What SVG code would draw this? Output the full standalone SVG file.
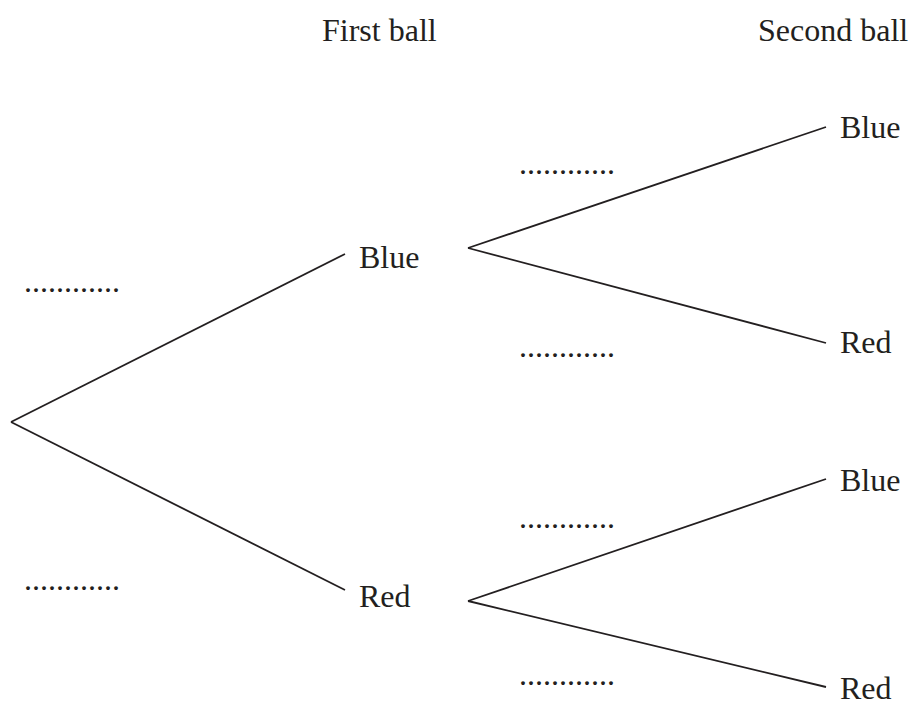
<svg xmlns="http://www.w3.org/2000/svg" width="910" height="715" viewBox="0 0 910 715">
<style>
text{font-family:"Liberation Serif","Times New Roman",serif;font-size:32px;fill:#231f20}
.e{stroke:#231f20;stroke-width:1.8;fill:none}
</style>
<rect width="910" height="715" fill="#fff"/>
<g id="headers">
<text x="322" y="41">First ball</text>
<text x="758" y="41">Second ball</text>
</g>
<g id="connectors">
<line class="e" x1="11" y1="422" x2="345" y2="254"/>
<line class="e" x1="11" y1="422" x2="345" y2="590"/>
<line class="e" x1="468" y1="248" x2="826" y2="127"/>
<line class="e" x1="468" y1="248" x2="826" y2="343"/>
<line class="e" x1="468" y1="601" x2="826" y2="479"/>
<line class="e" x1="468" y1="601" x2="826" y2="687"/>
</g>
<g id="n-blue1"><text x="359" y="268">Blue</text></g>
<g id="n-red1"><text x="359" y="607">Red</text></g>
<g id="n-bb"><text x="840" y="138">Blue</text></g>
<g id="n-br"><text x="840" y="353">Red</text></g>
<g id="n-rb"><text x="840" y="491">Blue</text></g>
<g id="n-rr"><text x="840" y="699">Red</text></g>
<g id="probs">
<text x="24" y="292">............</text>
<text x="24" y="590">............</text>
<text x="519" y="174">............</text>
<text x="519" y="357">............</text>
<text x="519" y="528">............</text>
<text x="519" y="685">............</text>
</g>
</svg>
